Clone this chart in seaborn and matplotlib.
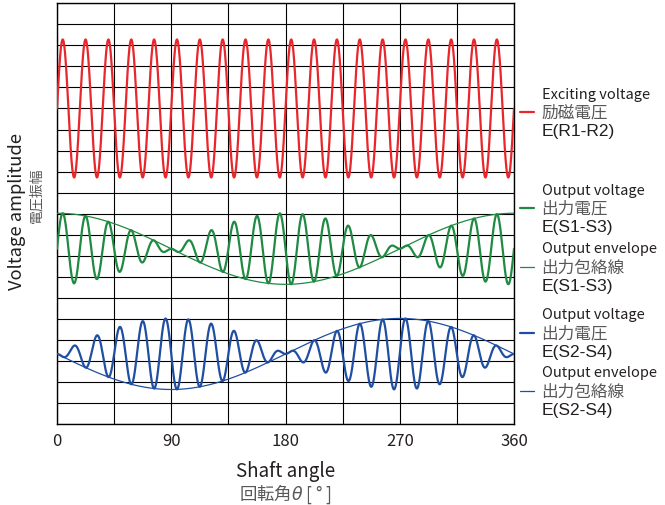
import numpy as np
import pandas as pd
import matplotlib.pyplot as plt
import seaborn as sns
from matplotlib.lines import Line2D

# shaft angle axis
angle_ticks = [0, 90, 180, 270, 360]
grid_step = 45
carrier_cycles = 20  # excitation periods over one turn

# level / amplitude of each trace (grid units, 20 rows tall)
excite_level, excite_amp = 15.0, 3.28
s13_level, s13_amp = 8.33, 1.69
s24_level, s24_amp = 3.33, 1.69

series_names = ["R1-R2", "S1-S3", "S1-S3 env", "S2-S4", "S2-S4 env"]
series_colors = ["#e8262b", "#1f8a41", "#1f8a41", "#1f4ea2", "#1f4ea2"]
series_widths = [1.6, 1.6, 0.9, 1.6, 0.9]

legend_en = ["Exciting voltage", "Output voltage", "Output envelope", "Output voltage", "Output envelope"]
legend_jp = ["励磁電圧", "出力電圧", "出力包絡線", "出力電圧", "出力包絡線"]
legend_code = ["E(R1-R2)", "E(S1-S3)", "E(S1-S3)", "E(S2-S4)", "E(S2-S4)"]
legend_y_px = [113, 209, 268, 334, 392]

theta = np.linspace(0, 360, 2401)
rad = np.deg2rad(theta)
carrier = np.sin(carrier_cycles * rad)

df = pd.DataFrame({
    "theta": theta,
    "R1-R2": excite_level + excite_amp * carrier,
    "S1-S3": s13_level + s13_amp * carrier * np.cos(rad),
    "S1-S3 env": s13_level + s13_amp * np.cos(rad),
    "S2-S4": s24_level - s24_amp * carrier * np.sin(rad),
    "S2-S4 env": s24_level - s24_amp * np.sin(rad),
})

sns.set_style("white")
plt.rcParams["font.family"] = ["Noto Sans CJK JP", "DejaVu Sans"]
plt.rcParams["mathtext.fontset"] = "dejavusans"

W, H = 665, 506
fig = plt.figure(figsize=(W / 100, H / 100), dpi=100)
ax = fig.add_axes([57 / W, 1 - 425 / H, (514 - 57) / W, (425 - 4.3) / H])

for name, color, lw in zip(series_names, series_colors, series_widths):
    sns.lineplot(data=df, x="theta", y=name, color=color, linewidth=lw,
                 estimator=None, sort=False, ax=ax, zorder=3)

ax.set_xlim(0, 360)
ax.set_ylim(0, 20)
ax.set_xticks(angle_ticks)
ax.set_xticks(np.arange(0, 361, grid_step), minor=True)
ax.set_yticks(np.arange(0, 21))
ax.set_yticklabels([])
ax.grid(True, which="both", color="black", linewidth=0.8)
ax.tick_params(axis="both", which="both", length=0)
ax.tick_params(axis="x", labelsize=12, pad=6, labelcolor="#231f20")
ax.set_xlabel("")
ax.set_ylabel("")
for sp in ax.spines.values():
    sp.set_color("black")
    sp.set_linewidth(1.0)

# axis titles
cx = (57 + 514) / 2 / W
fig.text(cx, 1 - 472 / H, "Shaft angle", ha="center", va="center", fontsize=13.5, color="#231f20")
fig.text(cx, 1 - 494 / H, r"回転角$\theta$ [ ° ]", ha="center", va="center", fontsize=12.5, color="#595757")
fig.text(17.5 / W, 1 - 212 / H, "Voltage amplitude", rotation=90, ha="center", va="center",
         fontsize=13.2, color="#231f20")
fig.text(36 / W, 1 - 195 / H, "電圧振幅", rotation=90, ha="center", va="center",
         fontsize=10, color="#595757")

# legend on the right
for i, (en, jp, code, ypx) in enumerate(zip(legend_en, legend_jp, legend_code, legend_y_px)):
    yf = 1 - ypx / H
    fig.add_artist(Line2D([520 / W, 534 / W], [yf, yf], color=series_colors[i],
                          linewidth=series_widths[i]))
    fig.text(542 / W, yf + 18.5 / H, en, ha="left", va="center", fontsize=10.5, color="#231f20")
    fig.text(541 / W, yf, jp, ha="left", va="center", fontsize=12, color="#595757")
    fig.text(542 / W, yf - 18.5 / H, code, ha="left", va="center", fontsize=12.5,
             color="#231f20", family=["Liberation Sans", "DejaVu Sans"])

fig.savefig("out.png", dpi=100)
